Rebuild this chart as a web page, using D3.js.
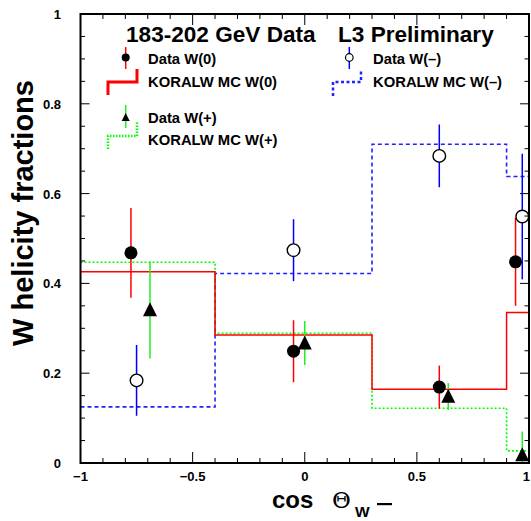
<!DOCTYPE html>
<html>
<head>
<meta charset="utf-8">
<script src="https://cdn.jsdelivr.net/npm/d3@7"></script>
<style>
  body { margin: 0; background: #fff; }
  text { font-family: "Liberation Sans", Arial, sans-serif; font-weight: bold; }
</style>
</head>
<body>
<div id="chart"></div>
<script>
// bin edges of the MC histograms (cos theta)
var binEdges = [-1, -0.4, 0.3, 0.9, 1.0];

// KORALW MC predictions per bin
var mcW0     = [0.426, 0.285, 0.164, 0.335];
var mcWplus  = [0.447, 0.289, 0.122, 0.027];
var mcWminus = [0.125, 0.422, 0.710, 0.638];

// measured points
var dataW0X   = [-0.775, -0.05, 0.60, 0.94];
var dataW0Y   = [0.468, 0.249, 0.169, 0.448];
var dataW0Err = [0.100, 0.069, 0.048, 0.098];

var dataWplusX   = [-0.69, 0.0, 0.64, 0.97];
var dataWplusY   = [0.341, 0.267, 0.148, 0.018];
var dataWplusErr = [0.108, 0.049, 0.030, 0.052];

var dataWminusX   = [-0.75, -0.05, 0.60, 0.97];
var dataWminusY   = [0.184, 0.474, 0.684, 0.549];
var dataWminusErr = [0.079, 0.069, 0.070, 0.140];

var xTicks = [-1, -0.5, 0, 0.5, 1];
var yTicks = [0, 0.2, 0.4, 0.6, 0.8, 1];

var red = "#ff0000", green = "#22ee22", greenMC = "#00ff00", blue = "#0000ff", blueMC = "#2222ff";

var width = 531, height = 521;
var x = d3.scaleLinear().domain([-1, 1]).range([80.5, 529]);
var y = d3.scaleLinear().domain([0, 1]).range([463, 14]);

var svg = d3.select("#chart").append("svg")
    .attr("width", width)
    .attr("height", height);

svg.append("defs").append("clipPath").attr("id", "plotclip")
  .append("rect")
    .attr("x", x(-1)).attr("y", y(1))
    .attr("width", x(1) - x(-1)).attr("height", y(0) - y(1));

var plot = svg.append("g").attr("clip-path", "url(#plotclip)");

function drawHist(vals, color, dash, w) {
  var pts = vals.map(function(v, i) { return [binEdges[i], v]; });
  pts.push([binEdges[binEdges.length - 1], vals[vals.length - 1]]);
  var line = d3.line()
      .x(function(d) { return x(d[0]); })
      .y(function(d) { return y(d[1]); })
      .curve(d3.curveStepAfter);
  plot.append("path")
    .attr("d", line(pts))
    .attr("fill", "none")
    .attr("stroke", color)
    .attr("stroke-width", w)
    .attr("stroke-dasharray", dash);
}

drawHist(mcWminus, blueMC, "4,3", 1.6);
drawHist(mcWplus, greenMC, "2,2", 1.6);
drawHist(mcW0, red, null, 1.5);

function drawBars(xs, ys, errs, color) {
  xs.forEach(function(xv, i) {
    plot.append("line")
      .attr("x1", x(xv)).attr("x2", x(xv))
      .attr("y1", y(ys[i] + errs[i])).attr("y2", y(ys[i] - errs[i]))
      .attr("stroke", color).attr("stroke-width", 1.5);
  });
}
drawBars(dataW0X, dataW0Y, dataW0Err, red);
drawBars(dataWplusX, dataWplusY, dataWplusErr, green);
drawBars(dataWminusX, dataWminusY, dataWminusErr, blue);

function triangle(cx, cy, s) {
  return "M" + cx + "," + (cy - s * 0.55) + "L" + (cx + s * 0.5) + "," + (cy + s * 0.45) +
         "L" + (cx - s * 0.5) + "," + (cy + s * 0.45) + "Z";
}

dataW0X.forEach(function(xv, i) {
  plot.append("circle").attr("cx", x(xv)).attr("cy", y(dataW0Y[i])).attr("r", 6.5).attr("fill", "#000");
});
dataWminusX.forEach(function(xv, i) {
  plot.append("circle").attr("cx", x(xv)).attr("cy", y(dataWminusY[i])).attr("r", 6.3)
    .attr("fill", "#fff").attr("stroke", "#000").attr("stroke-width", 1.4);
});
dataWplusX.forEach(function(xv, i) {
  plot.append("path").attr("d", triangle(x(xv), y(dataWplusY[i]), 14)).attr("fill", "#000");
});

// frame and ticks
var axes = svg.append("g");
function ticks(step, from, to) {
  var out = [];
  for (var v = from; v <= to + 1e-9; v += step) out.push(Math.round(v * 1000) / 1000);
  return out;
}
var xMinor = ticks(0.1, -1, 1), yMinor = ticks(0.05, 0, 1);
xMinor.forEach(function(v) {
  var major = Math.abs(v * 2 - Math.round(v * 2)) < 1e-6;
  var len = major ? 11 : 5;
  axes.append("line").attr("x1", x(v)).attr("x2", x(v)).attr("y1", y(0)).attr("y2", y(0) - len)
    .attr("stroke", "#000").attr("stroke-width", 1);
  axes.append("line").attr("x1", x(v)).attr("x2", x(v)).attr("y1", y(1)).attr("y2", y(1) + len)
    .attr("stroke", "#000").attr("stroke-width", 1);
});
yMinor.forEach(function(v) {
  var major = Math.abs(v * 5 - Math.round(v * 5)) < 1e-6;
  var len = major ? 9 : 4.5;
  axes.append("line").attr("x1", x(-1)).attr("x2", x(-1) + len).attr("y1", y(v)).attr("y2", y(v))
    .attr("stroke", "#000").attr("stroke-width", 1);
  axes.append("line").attr("x1", x(1)).attr("x2", x(1) - len).attr("y1", y(v)).attr("y2", y(v))
    .attr("stroke", "#000").attr("stroke-width", 1);
});
axes.append("rect")
  .attr("x", x(-1)).attr("y", y(1))
  .attr("width", x(1) - x(-1)).attr("height", y(0) - y(1))
  .attr("fill", "none").attr("stroke", "#000").attr("stroke-width", 2);

// tick labels
axes.selectAll(".xl").data(xTicks).enter().append("text")
  .attr("x", function(d) { return d === 1 ? width - 1 : x(d); })
  .attr("y", 481)
  .attr("text-anchor", function(d) { return d === 1 ? "end" : "middle"; })
  .attr("font-size", 13)
  .text(function(d) { return d3.format("")(d); });
axes.selectAll(".yl").data(yTicks).enter().append("text")
  .attr("x", 61)
  .attr("y", function(d) { return y(d) + 5; })
  .attr("text-anchor", "end")
  .attr("font-size", 13)
  .text(function(d) { return d3.format("")(d); });

// axis titles
svg.append("text")
  .attr("transform", "translate(33,213) rotate(-90)")
  .attr("text-anchor", "middle")
  .attr("font-size", 29)
  .text("W helicity fractions");

svg.append("text").attr("x", 272).attr("y", 508).attr("font-size", 24).text("cos");
svg.append("text").attr("x", 332).attr("y", 508).attr("font-size", 23)
  .style("font-weight", "normal").style("font-family", "'DejaVu Serif', serif").text("\u0398");
svg.append("text").attr("x", 355).attr("y", 517).attr("font-size", 15.5).attr("textLength", 21).text("W");
svg.append("rect").attr("x", 377).attr("y", 503).attr("width", 15).attr("height", 2.2).attr("fill", "#000");

// title
svg.append("text").attr("x", 126).attr("y", 42).attr("font-size", 22.6).text("183-202 GeV Data");
svg.append("text").attr("x", 338).attr("y", 42).attr("font-size", 22.6).text("L3 Preliminary");

// legend
var legendLabels = ["Data W(0)", "KORALW MC W(0)", "Data W(+)", "KORALW MC W(+)", "Data W(\u2013)", "KORALW MC W(\u2013)"];
var lg = svg.append("g");
function legText(tx, ty, s) {
  lg.append("text").attr("x", tx).attr("y", ty).attr("font-size", 14.8).text(s);
}
legText(148, 64, legendLabels[0]);
legText(148, 87, legendLabels[1]);
legText(148, 123, legendLabels[2]);
legText(148, 145, legendLabels[3]);
legText(373, 64, legendLabels[4]);
legText(373, 87, legendLabels[5]);

// legend markers
lg.append("line").attr("x1", 125.7).attr("x2", 125.7).attr("y1", 47).attr("y2", 69).attr("stroke", red).attr("stroke-width", 1.5);
lg.append("circle").attr("cx", 125.7).attr("cy", 57.5).attr("r", 4).attr("fill", "#000");
lg.append("path").attr("d", "M108,95V82H137V69").attr("fill", "none").attr("stroke", red).attr("stroke-width", 3);

lg.append("line").attr("x1", 125.7).attr("x2", 125.7).attr("y1", 105).attr("y2", 128).attr("stroke", green).attr("stroke-width", 1.5);
lg.append("path").attr("d", triangle(125.7, 117.5, 8)).attr("fill", "#000");
lg.append("path").attr("d", "M108,149V136H137V122").attr("fill", "none").attr("stroke", greenMC)
  .attr("stroke-width", 2.5).attr("stroke-dasharray", "1.5,1.5");

lg.append("line").attr("x1", 349.3).attr("x2", 349.3).attr("y1", 47).attr("y2", 69).attr("stroke", blue).attr("stroke-width", 1.5);
lg.append("circle").attr("cx", 349.3).attr("cy", 57.5).attr("r", 3.8).attr("fill", "#fff").attr("stroke", "#000").attr("stroke-width", 1.2);
lg.append("path").attr("d", "M333,96V82H361V69").attr("fill", "none").attr("stroke", blueMC)
  .attr("stroke-width", 2.5).attr("stroke-dasharray", "3,2.5");
</script>
</body>
</html>
